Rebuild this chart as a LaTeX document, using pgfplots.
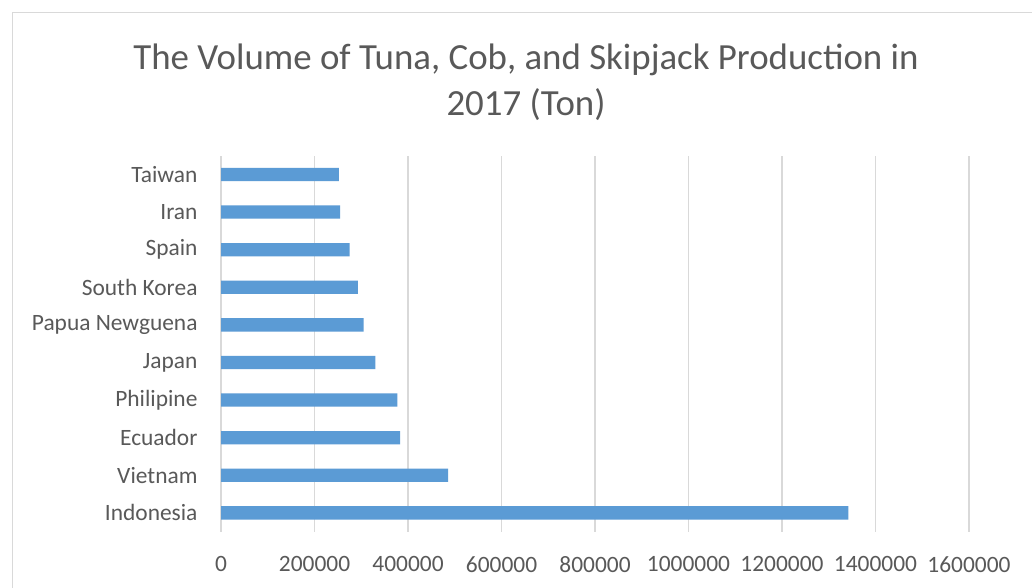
\documentclass[border=0pt]{standalone}
\usepackage{pgfplots}
\pgfplotsset{compat=1.18}
\usepackage{fontspec}
\setmainfont{Carlito}
\definecolor{txtc}{HTML}{595959}
\definecolor{gridc}{HTML}{D9D9D9}
\definecolor{barc}{HTML}{5B9BD5}
\begin{document}
\begin{tikzpicture}
\useasboundingbox (0,0) rectangle (1032bp,588bp);
\fill[white] (0,0) rectangle (1032bp,588bp);
\draw[gridc,line width=1.2bp] (12.5bp,0) -- (12.5bp,575.5bp) -- (1032bp,575.5bp);
\node[txtc,align=center,font=\fontsize{37}{46}\selectfont] at (526bp,506bp) {The Volume of Tuna, Cob, and Skipjack Production in\\2017 (Ton)};
\begin{axis}[
  at={(221bp,56.3bp)}, anchor=south west,
  scale only axis, width=748bp, height=376bp,
  xmin=0, xmax=1600000, ymin=-0.5, ymax=9.5,
  axis line style={draw=none},
  major tick length=0pt,
  xmajorgrids=true, ymajorgrids=false,
  major grid style={draw=gridc,line width=1.3bp},
  scaled x ticks=false,
  xtick={0,200000,400000,600000,800000,1000000,1200000,1400000,1600000},
  xticklabels={0,200000,400000,600000,800000,1000000,1200000,1400000,1600000},
  ytick={0,...,9},
  yticklabels={Indonesia,Vietnam,Ecuador,Philipine,Japan,Papua Newguena,South Korea,Spain,Iran,Taiwan},
  tick label style={text=txtc,font=\fontsize{23.5}{28}\selectfont},
  xticklabel style={yshift=-21bp},
  yticklabel style={xshift=-20bp},
  xbar, bar width=13.3bp,
]
\addplot[fill=barc,draw=none] coordinates {
(1342000,0) (486000,1) (383000,2) (377000,3) (330000,4) (305000,5) (293000,6) (275000,7) (255000,8) (252000,9)
};
\end{axis}
\end{tikzpicture}
\end{document}
